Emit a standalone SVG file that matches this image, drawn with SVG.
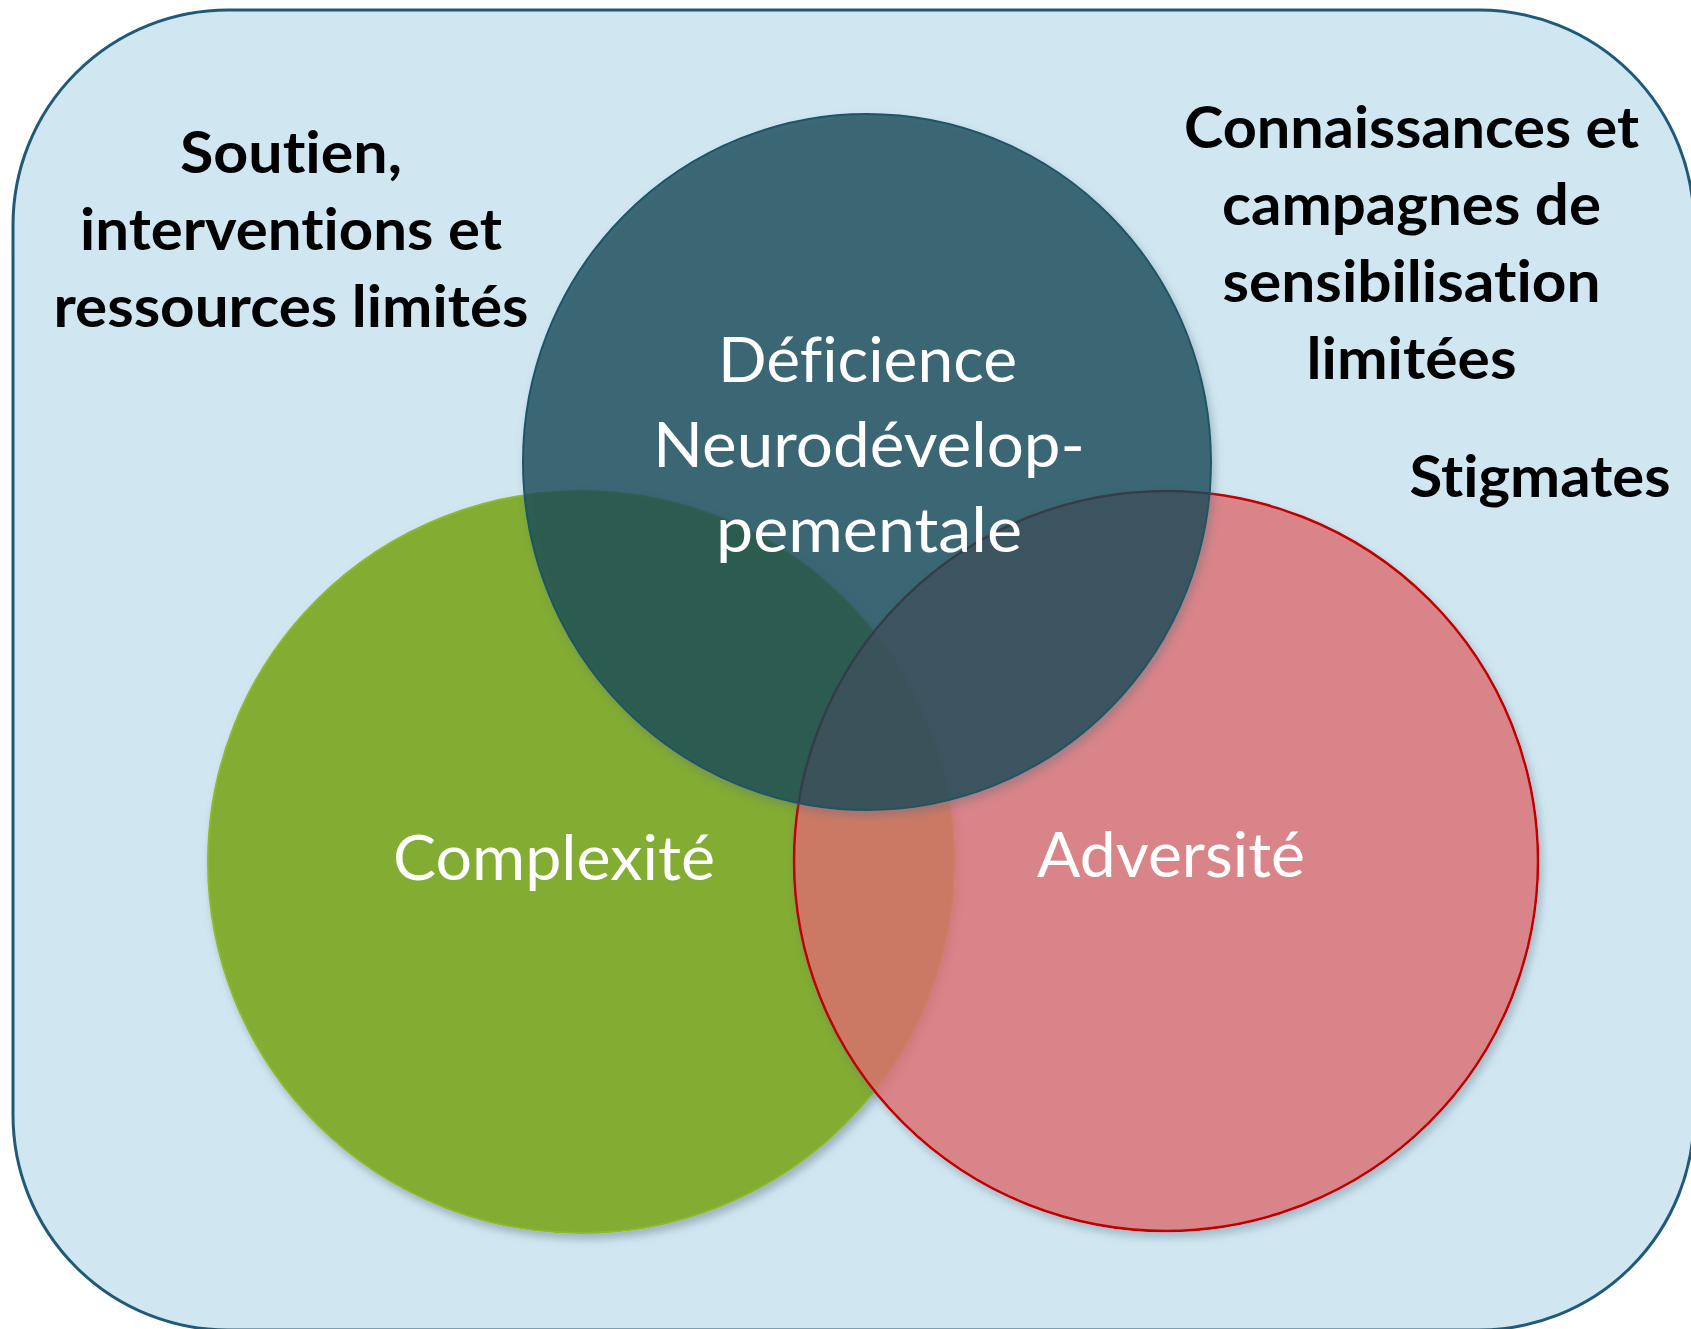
<svg xmlns="http://www.w3.org/2000/svg" width="1691" height="1329" viewBox="0 0 1691 1329">
<defs>
<filter id="sh" x="-10%" y="-10%" width="125%" height="125%">
<feGaussianBlur in="SourceAlpha" stdDeviation="4" result="b"/>
<feOffset in="b" dx="3" dy="5" result="o"/>
<feComposite in="o" in2="SourceAlpha" operator="out" result="out"/>
<feColorMatrix in="out" type="matrix" values="0 0 0 0 0.1 0 0 0 0 0.15 0 0 0 0 0.2 0 0 0 0.45 0" result="s"/>
<feMerge><feMergeNode in="s"/><feMergeNode in="SourceGraphic"/></feMerge>
</filter>
<style>
text{font-variant-ligatures:none;font-feature-settings:"liga" 0,"clig" 0,"dlig" 0}
.lbl{font-family:Lato,"Open Sans","Noto Sans",sans-serif;font-weight:700;font-size:57px;fill:#000;text-anchor:middle}
.in{font-family:Lato,"Open Sans","Noto Sans",sans-serif;font-weight:400;font-size:62px;fill:#fff;text-anchor:middle}
</style>
</defs>
<g id="background">
<rect x="13" y="10" width="1681" height="1320" rx="215" ry="215" fill="#D0E7F2" stroke="#1F5A78" stroke-width="3"/>
</g>
<g id="connectors"/>
<g id="complexite">
<ellipse cx="581" cy="862" rx="373" ry="371" fill="#82AC33" stroke="#8CBA2E" stroke-width="2" filter="url(#sh)"/>
<text class="in" x="554" y="880" textLength="322" lengthAdjust="spacingAndGlyphs">Complexité</text>
</g>
<g id="adversite">
<ellipse cx="1166" cy="861" rx="372" ry="370" fill="rgb(221,110,113)" fill-opacity="0.8" stroke="#C00000" stroke-width="2.5" filter="url(#sh)"/>
<text class="in" x="1171" y="877" textLength="268" lengthAdjust="spacingAndGlyphs">Adversité</text>
</g>
<g id="deficience">
<ellipse cx="867" cy="462" rx="344" ry="348" fill="rgb(25,72,87)" fill-opacity="0.8" stroke="#1E5566" stroke-width="2" filter="url(#sh)"/>
<text class="in" x="867.5" y="382" textLength="299" lengthAdjust="spacingAndGlyphs">Déficience</text>
<text class="in" x="869" y="467" textLength="432" lengthAdjust="spacingAndGlyphs">Neurodévelop-</text>
<text class="in" x="869" y="552" textLength="306" lengthAdjust="spacingAndGlyphs">pementale</text>
</g>
<g id="soutien">
<text class="lbl" x="291" y="173" textLength="222" lengthAdjust="spacingAndGlyphs">Soutien,</text>
<text class="lbl" x="291" y="250" textLength="422" lengthAdjust="spacingAndGlyphs">interventions et</text>
<text class="lbl" x="291" y="327" textLength="475" lengthAdjust="spacingAndGlyphs">ressources limités</text>
</g>
<g id="connaissances">
<text class="lbl" x="1411.5" y="148" textLength="455" lengthAdjust="spacingAndGlyphs">Connaissances et</text>
<text class="lbl" x="1411.5" y="225" textLength="379" lengthAdjust="spacingAndGlyphs">campagnes de</text>
<text class="lbl" x="1411.5" y="302" textLength="378" lengthAdjust="spacingAndGlyphs">sensibilisation</text>
<text class="lbl" x="1411.5" y="379" textLength="210" lengthAdjust="spacingAndGlyphs">limitées</text>
</g>
<g id="stigmates">
<text class="lbl" x="1540" y="497" textLength="261" lengthAdjust="spacingAndGlyphs">Stigmates</text>
</g>
</svg>
